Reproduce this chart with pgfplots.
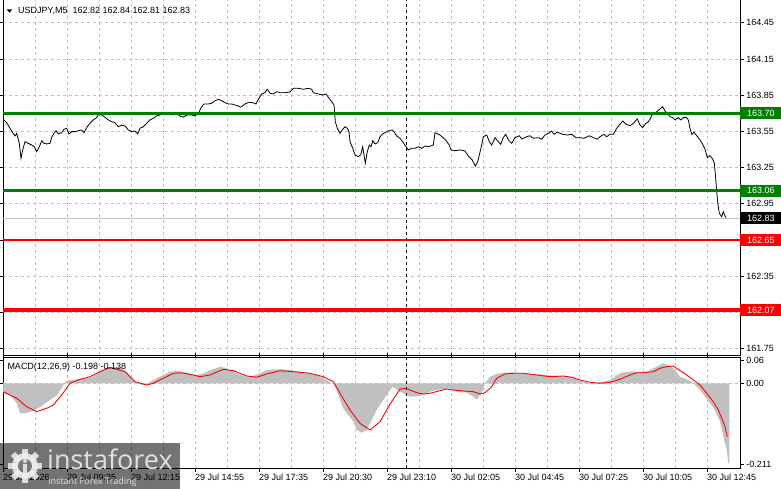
\documentclass[border=0pt]{standalone}
\usepackage{fontspec}
\setmainfont{Liberation Sans}
\newfontfamily\wmfont{Open Sans}
\usepackage{pgfplots}
\pgfplotsset{compat=1.18}
\definecolor{mtgreen}{RGB}{0,128,0}
\definecolor{mtred}{RGB}{255,0,0}
\definecolor{gridc}{RGB}{192,192,192}
\definecolor{histc}{RGB}{192,192,192}
\newcommand{\lbl}{\fontsize{9}{10}\selectfont}
\begin{document}
\begin{tikzpicture}[x=1pt,y=1pt]
\useasboundingbox (0,0) rectangle (781,489);
\begin{axis}[
  at={(3pt,134pt)}, anchor=south west,
  scale only axis, width=737pt, height=356pt,
  xmin=0, xmax=368.5, ymin=161.6975, ymax=164.647,
  axis line style={line width=0.9pt},
  xtick={0,32,...,352}, minor x tick num=1, xticklabels={},
  xtick style={/pgfplots/major tick length=0pt,/pgfplots/minor tick length=0pt},
  ytick={161.75,162.05,162.35,162.65,162.95,163.25,163.55,163.85,164.15,164.45},
  yticklabels={161.75,,162.35,,162.95,163.25,163.55,163.85,164.15,164.45},
  yticklabel pos=right, tick align=outside,
  ytick style={/pgfplots/major tick length=4pt, line width=0.8pt, black},
  yticklabel style={font=\lbl, anchor=west, inner sep=0pt, xshift=2pt},
  xmajorgrids, xminorgrids, ymajorgrids,
  grid style={gridc, dash pattern=on 3pt off 3pt, line width=0.8pt},
]
\addplot[gridc, line width=0.9pt] coordinates {(0,162.83) (368.5,162.83)};
\addplot[black, line width=0.8pt, dash pattern=on 3pt off 3pt] coordinates {(201.5,161.6975) (201.5,164.647)};
\addplot[black, line width=0.8pt] table {
x y
0 163.650
1.85 163.622
3.5 163.576
4.85 163.539
6 163.512
6.85 163.534
8.15 163.451
9 163.327
9.85 163.396
11 163.465
12.65 163.451
14.35 163.437
15.65 163.423
16.85 163.382
18.15 163.423
19.35 163.471
20.5 163.451
21.85 163.446
23.5 163.451
24.35 163.501
25.5 163.534
26.5 163.556
27.65 163.529
29.35 163.539
30.5 163.567
31.85 163.576
33 163.529
34.35 163.548
36 163.548
37.65 163.556
39.35 163.562
40.5 163.539
42.15 163.589
43.5 163.617
45.15 163.645
46.5 163.659
47.65 163.686
49.35 163.686
51 163.667
52.65 163.645
54.35 163.630
56 163.622
57.65 163.589
59.35 163.603
61 163.595
62.65 163.562
64.35 163.548
66 163.553
67.35 163.529
68.5 163.576
70.15 163.589
71.85 163.617
73.5 163.645
75.15 163.659
76.85 163.678
78.5 163.686
79.85 163.700
81.85 163.705
84.35 163.686
86.85 163.700
88.5 163.678
90.15 163.667
91.85 163.686
94.35 163.686
96 163.678
97.65 163.700
99.35 163.755
100.5 163.777
102.65 163.777
104.35 163.783
106 163.804
107.65 163.816
109.35 163.804
111 163.788
112.65 163.777
114.35 163.777
116 163.769
117.65 163.761
118.85 163.750
121 163.777
123 163.792
124.85 163.788
126.5 163.777
127.65 163.816
129.35 163.860
131 163.871
132.15 163.899
133.5 163.866
135.15 163.860
136.85 163.879
138.5 163.871
141 163.871
143.5 163.876
145.15 163.907
147.65 163.907
150.15 163.899
152.65 163.907
154.35 163.899
155.15 163.871
157.65 163.860
159.85 163.852
161.5 163.860
162.65 163.833
164.35 163.796
165.5 163.769
166.15 163.630
167.15 163.576
168.5 163.534
169.85 163.567
171 163.589
172.15 163.576
173 163.548
173.5 163.465
174.85 163.410
176 163.355
177.65 163.341
178.85 163.355
179.85 163.423
181.15 163.286
182.15 163.382
183.15 163.437
184 163.423
184.85 163.473
186 163.446
187.35 163.456
188.5 163.506
189.85 163.529
191.85 163.548
194.35 163.562
195.5 163.548
196.85 163.512
198.5 163.493
200.15 163.456
201.5 163.423
202.65 163.396
204.35 163.410
206 163.410
207.65 163.423
209.35 163.410
211 163.429
212.65 163.423
215.15 163.437
216 163.539
218.5 163.520
221 163.485
223.15 163.437
224 163.396
226 163.390
228.5 163.396
231 163.388
232.65 163.346
234.65 163.313
236.15 163.263
237.35 163.299
239.35 163.437
240.15 163.506
241.85 163.520
243.15 163.465
244.35 163.437
246 163.498
247.65 163.465
248.85 163.443
250.15 163.498
251.35 163.526
252.65 163.479
254.35 163.451
256 163.498
258.15 163.514
259.35 163.487
261.85 163.506
263.5 163.514
265.15 163.493
267.65 163.498
269.35 163.485
271 163.520
272.65 163.534
274.35 163.553
275.5 163.526
277.15 163.543
279.85 163.526
282.15 163.520
284.35 163.526
286.5 163.498
288.5 163.498
290.5 163.493
293.15 163.514
295.15 163.498
297.15 163.485
298.5 163.506
300.5 163.526
301.85 163.506
303.5 163.526
305.15 163.526
306.85 163.576
308.5 163.609
309.85 163.636
311.5 163.609
313.5 163.597
315.15 163.617
317.15 163.653
318.5 163.603
319.85 163.581
321 163.609
322.65 163.630
323.85 163.659
324.35 163.686
325.5 163.692
326.85 163.713
328.5 163.736
329.85 163.755
331 163.719
332.15 163.700
333.5 163.672
334.85 163.664
336 163.645
337.65 163.664
338.85 163.645
340.15 163.664
341.85 163.664
342.65 163.645
343.5 163.576
344.35 163.526
345.5 163.543
346.85 163.514
348.5 163.479
349.85 163.443
351 163.404
352.15 163.332
353.5 163.349
354.85 163.321
355.65 163.286
356.35 163.162
356.85 163.051
357.5 162.940
358.15 162.872
359.35 162.843
360.15 162.885
361.35 162.835
};
\addplot[mtgreen, line width=3.2pt] coordinates {(0,163.70) (368.5,163.70)};
\addplot[mtgreen, line width=2.3pt] coordinates {(0,163.06) (368.5,163.06)};
\addplot[mtred, line width=2.3pt] coordinates {(0,162.65) (368.5,162.65)};
\addplot[mtred, line width=3.2pt] coordinates {(0,162.07) (368.5,162.07)};
\coordinate (g1) at (axis cs:368.5,163.70);
\coordinate (g2) at (axis cs:368.5,163.06);
\coordinate (k1) at (axis cs:368.5,162.83);
\coordinate (r1) at (axis cs:368.5,162.65);
\coordinate (r2) at (axis cs:368.5,162.07);
\end{axis}
% price boxes on the right scale
\foreach \c/\col/\t in {g1/mtgreen/163.70, g2/mtgreen/163.06, k1/black/162.83, r1/mtred/162.65, r2/mtred/162.07}{
  \fill[\col] ([yshift=-6pt]\c) rectangle ([xshift=42pt,yshift=6pt]\c);
  \node[anchor=west, inner sep=0pt, text=white, font=\lbl] at ([xshift=7pt]\c) {\t};
}
\begin{axis}[
  at={(3pt,21pt)}, anchor=south west,
  scale only axis, width=737pt, height=111pt,
  xmin=0, xmax=368.5, ymin=-0.2200, ymax=0.0683,
  axis line style={line width=0.9pt},
  xtick={0,32,...,352}, minor x tick num=1,
  xticklabels={29 Jul 2026,29 Jul 09:35,29 Jul 12:15,29 Jul 14:55,29 Jul 17:35,29 Jul 20:30,29 Jul 23:10,30 Jul 02:05,30 Jul 04:45,30 Jul 07:25,30 Jul 10:05,30 Jul 12:45},
  xticklabel style={font=\lbl, anchor=north west, inner sep=0pt, yshift=-2pt},
  xtick style={/pgfplots/major tick length=4pt,/pgfplots/minor tick length=0pt, black, line width=0.8pt},
  ytick={-0.211,0,0.06}, yticklabels={-0.211,0.00,0.06},
  yticklabel pos=right, tick align=outside,
  ytick style={/pgfplots/major tick length=4pt, line width=0.8pt, black},
  yticklabel style={font=\lbl, anchor=west, inner sep=0pt, xshift=2pt},
  xmajorgrids, xminorgrids,
  grid style={gridc, dash pattern=on 3pt off 3pt, line width=0.8pt},
]
\addplot[gridc, line width=0.8pt, dash pattern=on 3pt off 3pt] coordinates {(0,0) (368.5,0)};
\addplot[fill=histc, draw=none] table {
x y
0 0
0 -0.0226
3.5 -0.0304
6.85 -0.0512
8.5 -0.0779
11 -0.0779
13.5 -0.0745
16 -0.0694
20 -0.0564
23.5 -0.0434
27 -0.0304
29.5 -0.0122
30.75 0
31.85 0.0068
36.85 0.0104
41.85 0.0130
45.15 0.0171
48.5 0.0301
51.85 0.0390
55.15 0.0431
58.5 0.0416
61.85 0.0301
65.15 0.0086
66.85 0.0000
70.15 -0.0044
71.85 -0.0044
73.5 0.0042
76.85 0.0130
80.15 0.0216
83.5 0.0301
86.85 0.0320
91.85 0.0275
96.85 0.0216
100.15 0.0260
105.15 0.0364
108.5 0.0431
111.85 0.0390
115.15 0.0301
118.5 0.0216
121.85 0.0171
125.15 0.0190
128.5 0.0260
131.85 0.0345
135.15 0.0364
140.15 0.0364
145.15 0.0327
151.85 0.0275
156.85 0.0216
160.15 0.0130
163.5 0.0026
165.15 0.0000
166.85 -0.0174
168.5 -0.0434
170.15 -0.0649
172.65 -0.0823
175.15 -0.0997
176.85 -0.1213
179.35 -0.1283
181.85 -0.1213
183.5 -0.1039
186.85 -0.0694
190.15 -0.0434
193.5 -0.0174
195 -0.0080
198.5 -0.0218
203.5 -0.0348
208.5 -0.0330
213.5 -0.0218
218.5 -0.0156
223.5 -0.0130
226.85 -0.0218
231.85 -0.0244
235.15 -0.0348
236.85 -0.0416
239.35 -0.0260
241 0.0000
243.5 0.0171
246.85 0.0242
250.15 0.0275
256.85 0.0275
263.5 0.0242
270.15 0.0216
276.85 0.0190
283.5 0.0171
288.5 0.0068
293.5 0.0000
300.15 0.0042
303.5 0.0086
308.5 0.0260
311.85 0.0301
316.85 0.0301
321.85 0.0301
326.85 0.0431
330.15 0.0519
333.5 0.0449
336 0.0345
338.5 0.0171
341.85 0.0104
344.35 0.0042
346 -0.0044
348.5 -0.0174
351 -0.0348
353.5 -0.0519
356 -0.0694
358.5 -0.0997
360.15 -0.1387
361.85 -0.1732
362.65 -0.2078
363.2 -0.2078
363.2 0
};
\addplot[black, line width=0.8pt, dash pattern=on 3pt off 3pt] coordinates {(201.5,-0.22) (201.5,0.0683)};
\addplot[mtred, line width=0.9pt] table {
x y
0 -0.0218
6.85 -0.0390
11.85 -0.0608
16.85 -0.0738
21.85 -0.0649
25.15 -0.0564
29.35 -0.0304
33.5 0.0000
38.5 0.0104
43.5 0.0171
48.5 0.0301
53.5 0.0416
56.85 0.0364
61 0.0301
66 0.0042
71.85 -0.0044
75.15 0.0000
80.15 0.0130
85.15 0.0260
89.35 0.0275
95.15 0.0216
98.5 0.0171
103.5 0.0216
110.15 0.0364
115.15 0.0327
121.85 0.0190
126.85 0.0156
131.85 0.0242
138.5 0.0327
145.15 0.0301
153.5 0.0260
160.15 0.0171
165.15 0.0042
168.5 -0.0260
173.5 -0.0694
178.5 -0.1039
183.5 -0.1213
188.5 -0.0997
193.5 -0.0540
196 -0.0348
198.5 -0.0156
201 -0.0130
203.5 -0.0174
206.85 -0.0244
210.15 -0.0278
213.5 -0.0260
218.5 -0.0192
221.85 -0.0148
225.15 -0.0174
230.15 -0.0200
235.15 -0.0218
238.5 -0.0278
241 -0.0244
244.35 -0.0088
246.85 0.0130
251 0.0242
255.15 0.0260
260.15 0.0260
266.85 0.0216
273.5 0.0171
280.15 0.0190
284.35 0.0156
288.5 0.0086
293.5 0.0026
298.5 0.0000
303.5 0.0026
308.5 0.0104
313.5 0.0216
316.85 0.0275
320.15 0.0275
325.15 0.0301
328.5 0.0390
331.85 0.0431
335.15 0.0449
338.5 0.0327
341.85 0.0216
345.15 0.0086
348.5 -0.0044
351.85 -0.0260
355.15 -0.0478
357.65 -0.0694
359.35 -0.0909
361 -0.1127
362.15 -0.1387
};
\end{axis}
% titles
\fill (6.7,479.7) -- (12.3,479.7) -- (9.5,476.3) -- cycle;
\node[anchor=base west, inner sep=0pt, font=\lbl] at (18,475) {USDJPY,M5\ \ 162.82 162.84 162.81 162.83};
\node[anchor=base west, inner sep=0pt, font=\lbl] at (7.3,119) {MACD(12,26,9) -0.198 -0.138};
% watermark
\fill[black, fill opacity=0.55] (0,0) rectangle (180,46);
\begin{scope}[fill opacity=0.85]
  \fill[white!88!gray] (25,23) circle (13);
  \foreach \a in {0,45,...,315}{
    \fill[white!88!gray, rotate around={\a:(25,23)}] (22,23) rectangle (28,40);
  }
  \fill[gray!80!black] (25,23) circle (7);
  \fill[white!88!gray] (25,28) circle (2);
  \fill[white!88!gray] (23.3,15) rectangle (26.7,25);
\end{scope}
\node[anchor=base west, inner sep=0pt, text=white!85!gray, text opacity=0.9, font={\wmfont\fontsize{27}{30}\selectfont}] at (47,19) {instaforex};
\node[anchor=base west, inner sep=0pt, text=white!85!gray, text opacity=0.9, font={\wmfont\fontsize{9}{10}\selectfont}] at (48,4) {Instant Forex Trading};
\end{tikzpicture}
\end{document}
